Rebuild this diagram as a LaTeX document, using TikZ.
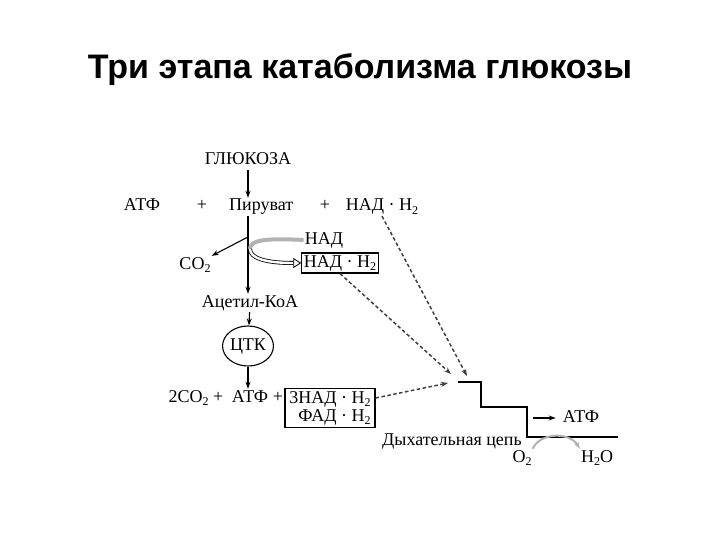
\documentclass[tikz,border=0pt]{standalone}
\usepackage{fontspec}
\setmainfont{Liberation Serif}
\newfontfamily\titlefont{Liberation Sans}
\usetikzlibrary{arrows.meta,shapes.geometric}
\newcommand{\low}[1]{\raisebox{-0.45ex}{\fontsize{12}{12}\selectfont #1}}

\begin{document}
\begin{tikzpicture}[x=1pt,y=-1pt,>={Stealth[length=7pt,width=5pt]},
  txt/.style={font=\fontsize{18}{18}\selectfont, inner sep=1pt},
  lbl/.style={txt, text height=12pt, text depth=4pt},
  flow/.style={->, line width=1.1pt},
  feed/.style={->, gray!50!black, dash pattern=on 3.5pt off 2.5pt, line width=1.5pt}]
  \useasboundingbox (0,0) rectangle (720,540);
  \node[font=\titlefont\bfseries\fontsize{34}{40}\selectfont] (title) at (360,70) {Три этапа катаболизма глюкозы};
  % glycolysis
  \node[lbl] (glu) at (248,161) {ГЛЮКОЗА};
  \node[lbl] (atp1) at (142,207) {АТФ};
  \node[lbl] (plus1) at (202,207) {+};
  \node[lbl, anchor=west] (pyr) at (228,207) {Пируват};
  \node[lbl] (plus2) at (325,207) {+};
  \node[lbl] (nadh1) at (382,207) {НАД · Н\low{2}};
  \draw[flow] (glu) -- (glu |- pyr.north);
  % pyruvate -> acetyl-CoA
  \node[lbl] (co2) at (195,265) {CO\low{2}};
  \node[lbl] (nad) at (324,240) {НАД};
  \node[lbl, draw, line width=1.2pt, inner sep=2pt] (nadh2) at (340,263) {НАД · Н\low{2}};
  \node[lbl] (acoa) at (250,303) {Ацетил-КоА};
  \coordinate (br) at (248,237);
  \coordinate (cb) at (250,249);
  \draw[flow] (glu |- pyr.south) -- (glu |- acoa.north);
  \draw[flow] (br) -- (co2.north east);
  \draw[gray!60, line width=4pt] (nad.west) .. controls (265,238) and (250,240) .. (cb);
  \draw[double=white, double distance=2.4pt, line width=0.8pt, -{Triangle[open,length=8pt,width=10pt]}]
    (cb) .. controls (250,258) and (265,263) .. (nadh2.west);
  % citric acid cycle
  \node[lbl, ellipse, draw, line width=1.1pt, minimum width=48pt, minimum height=40pt, inner sep=0pt] (tca) at (248,346) {ЦТК};
  \node[lbl] (co2x2) at (196,398) {2CO\low{2} +};
  \node[lbl] (atp2) at (250,398) {АТФ};
  \node[lbl] (plus3) at (278,398) {+};
  \node[txt, draw, line width=1.2pt, align=right, inner sep=3pt, minimum width=90pt] (box2) at (330,408)
    {3НАД · Н\low{2}\\ФАД · Н\low{2}};
  \draw[flow] (acoa) -- (tca);
  \draw[flow] (tca) -- (tca |- atp2.north);
  % respiratory chain
  \coordinate (etc) at (458,382);
  \coordinate (t1) at (467,376);
  \coordinate (t2) at (451,374);
  \coordinate (t3) at (448,383);
  \draw[feed] (nadh1.south) -- (t1);
  \draw[feed] (nadh2.south) -- (t2);
  \draw[feed] (box2.east |- plus3) -- (t3);
  \draw[line width=1.6pt] (etc) -- ++(23,0) -- ++(0,25) -- ++(46,0) -- ++(0,30) -- ++(91,0);
  \node[lbl] (resp) at (452,441) {Дыхательная цепь};
  \coordinate (a0) at (533,418);
  \node[lbl] (atp3) at (581,418) {АТФ};
  \draw[flow, shorten >=6pt] (a0) -- (atp3.west);
  \node[lbl] (o2) at (522,458) {O\low{2}};
  \node[lbl] (h2o) at (597,458) {H\low{2}O};
  \draw[->, gray!60, line width=2pt] (o2.north east) .. controls (540,432) and (570,432) .. (h2o.north west);
\end{tikzpicture}
\end{document}
